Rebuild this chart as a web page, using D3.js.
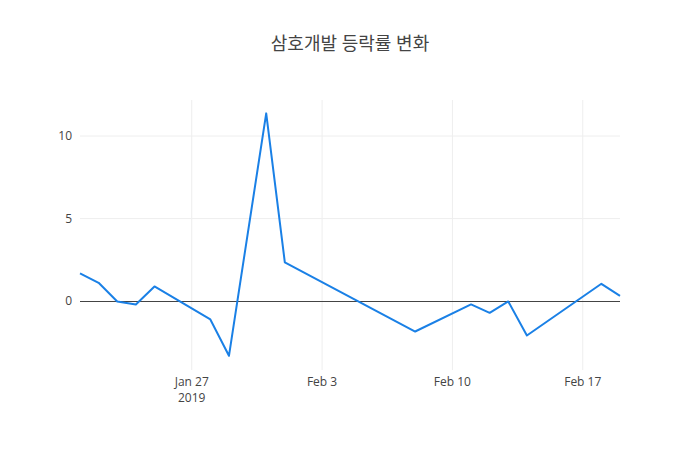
<!DOCTYPE html>
<html>
<head>
<meta charset="utf-8">
<script src="https://cdn.jsdelivr.net/npm/d3@7"></script>
<style>
  body { margin: 0; background: #fff; }
  svg { font-family: "Open Sans", "Noto Sans CJK KR", sans-serif; }
</style>
</head>
<body>
<div id="chart"></div>
<script>
// Trading dates and daily change (%)
const dates = [
    '2019-01-21', '2019-01-22', '2019-01-23', '2019-01-24', '2019-01-25',
    '2019-01-28', '2019-01-29', '2019-01-31', '2019-02-01', '2019-02-08',
    '2019-02-11', '2019-02-12', '2019-02-13', '2019-02-14', '2019-02-18',
    '2019-02-19'
];
const changes = [
    1.68, 1.11, -0.02, -0.2, 0.89,
    -1.11, -3.31, 11.37, 2.35, -1.84,
    -0.2, -0.71, -0.02, -2.08, 1.05,
    0.32
];
const yTicks = [0, 5, 10];
const xTicks = ['2019-01-27', '2019-02-03', '2019-02-10', '2019-02-17'];
const xTickLabels = ['Jan 27', 'Feb 3', 'Feb 10', 'Feb 17'];
const title = '삼호개발 등락률 변화';

const parse = d3.timeParse('%Y-%m-%d');
const data = dates.map((d, i) => ({ date: parse(d), value: changes[i] }));

// Dimensions
const svgWidth = 700;
const svgHeight = 450;
const margin = { top: 100, right: 80, bottom: 80, left: 80 };
const chartWidth = svgWidth - margin.left - margin.right;
const chartHeight = svgHeight - margin.top - margin.bottom;

let svg = d3.select('#chart')
    .append('svg')
    .attr('width', svgWidth)
    .attr('height', svgHeight);

let chart = svg.append('g')
    .attr('transform', `translate(${margin.left}, ${margin.top})`);

// Scales
let xScale = d3.scaleTime()
    .domain(d3.extent(data, d => d.date))
    .range([0, chartWidth]);

let yScale = d3.scaleLinear()
    .domain([-4.17, 12.18])
    .range([chartHeight, 0]);

// Gridlines
chart.append('g')
    .selectAll('line')
    .data(xTicks)
    .enter()
    .append('line')
    .attr('x1', d => xScale(parse(d)))
    .attr('x2', d => xScale(parse(d)))
    .attr('y1', 0)
    .attr('y2', chartHeight)
    .style('stroke', '#eee')
    .style('stroke-width', 1);

chart.append('g')
    .selectAll('line')
    .data(yTicks.filter(d => d !== 0))
    .enter()
    .append('line')
    .attr('x1', 0)
    .attr('x2', chartWidth)
    .attr('y1', d => yScale(d))
    .attr('y2', d => yScale(d))
    .style('stroke', '#eee')
    .style('stroke-width', 1);

// Zero line
chart.append('line')
    .attr('x1', 0)
    .attr('x2', chartWidth)
    .attr('y1', yScale(0))
    .attr('y2', yScale(0))
    .style('stroke', '#444')
    .style('stroke-width', 1)
    .style('shape-rendering', 'crispEdges');

// Y tick labels
chart.append('g')
    .selectAll('text')
    .data(yTicks)
    .enter()
    .append('text')
    .attr('x', -8)
    .attr('y', d => yScale(d))
    .attr('dy', '0.35em')
    .attr('text-anchor', 'end')
    .style('font-size', '12px')
    .style('fill', '#444')
    .text(d => d);

// X tick labels
chart.append('g')
    .selectAll('text')
    .data(xTicks)
    .enter()
    .append('text')
    .attr('x', d => xScale(parse(d)))
    .attr('y', chartHeight + 16)
    .attr('text-anchor', 'middle')
    .style('font-size', '12px')
    .style('fill', '#444')
    .text((d, i) => xTickLabels[i]);

// Year under first tick
chart.append('text')
    .attr('x', xScale(parse(xTicks[0])))
    .attr('y', chartHeight + 32)
    .attr('text-anchor', 'middle')
    .style('font-size', '12px')
    .style('fill', '#444')
    .text('2019');

// Line
let line = d3.line()
    .x(d => xScale(d.date))
    .y(d => yScale(d.value));

chart.append('path')
    .datum(data)
    .attr('d', line)
    .style('fill', 'none')
    .style('stroke', '#1a80e6')
    .style('stroke-width', 2)
    .style('stroke-linejoin', 'round');

// Title
svg.append('text')
    .attr('x', svgWidth / 2)
    .attr('y', 50)
    .attr('text-anchor', 'middle')
    .style('font-size', '18px')
    .style('fill', '#444')
    .text(title);
</script>
</body>
</html>
